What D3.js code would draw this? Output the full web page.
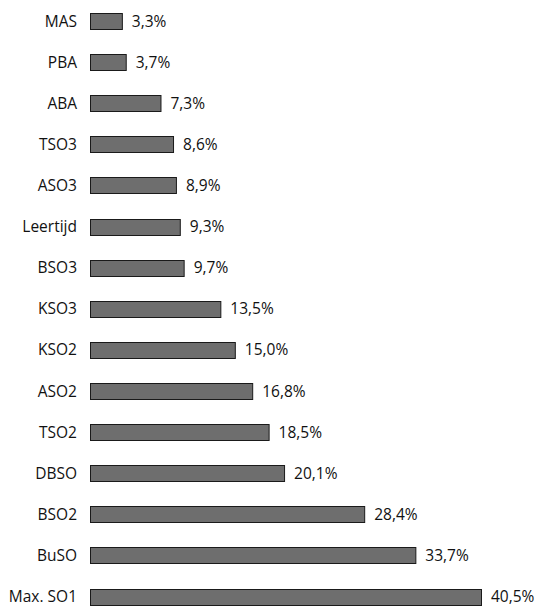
<!DOCTYPE html>
<html>
<head>
<meta charset="utf-8">
<script src="https://cdn.jsdelivr.net/npm/d3@7"></script>
<style>
  body { margin: 0; background: #fff; }
  text { font-family: "Open Sans", sans-serif; font-size: 15.5px; fill: #111; }
</style>
</head>
<body>
<svg id="chart" width="540" height="607"></svg>
<script>
var categories = ["MAS", "PBA", "ABA", "TSO3", "ASO3", "Leertijd", "BSO3", "KSO3", "KSO2", "ASO2", "TSO2", "DBSO", "BSO2", "BuSO", "Max. SO1"];
var values = [3.3, 3.7, 7.3, 8.6, 8.9, 9.3, 9.7, 13.5, 15.0, 16.8, 18.5, 20.1, 28.4, 33.7, 40.5];

var svg = d3.select("#chart");

var xScale = d3.scaleLinear().domain([0, 40.5]).range([90, 481]);
var yScale = d3.scalePoint().domain(categories).range([21.5, 597]);
var barH = 17;

var fmt = d => d.toFixed(1).replace(".", ",") + "%";

var rows = svg.selectAll(".row")
    .data(categories)
    .enter().append("g")
    .attr("class", "row");

rows.append("rect")
    .attr("x", xScale(0) + 0.5)
    .attr("y", d => Math.round(yScale(d) - barH / 2) + 0.5)
    .attr("width", (d, i) => xScale(values[i]) - xScale(0))
    .attr("height", barH - 1)
    .attr("fill", "#6e6e6e")
    .attr("stroke", "#1a1a1a")
    .attr("stroke-width", 1);

// category labels on the left
rows.append("text")
    .attr("x", 77)
    .attr("y", d => yScale(d))
    .attr("dy", "0.33em")
    .attr("text-anchor", "end")
    .text(d => d);

// value labels after each bar
rows.append("text")
    .attr("x", (d, i) => xScale(values[i]) + 10)
    .attr("y", d => yScale(d))
    .attr("dy", "0.33em")
    .text((d, i) => fmt(values[i]));
</script>
</body>
</html>
